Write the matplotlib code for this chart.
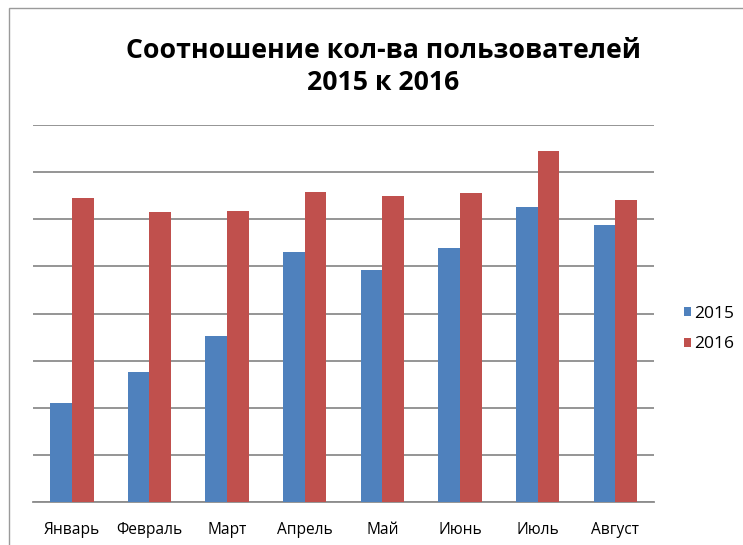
import matplotlib.pyplot as plt
import matplotlib.patches as patches
import numpy as np

months = ["Январь", "Февраль", "Март", "Апрель", "Май", "Июнь", "Июль", "Август"]
users_2015 = [2.10, 2.77, 3.53, 5.31, 4.93, 5.40, 6.27, 5.87]
users_2016 = [6.45, 6.16, 6.18, 6.59, 6.50, 6.56, 7.44, 6.40]

plt.rcParams['font.family'] = ['Open Sans', 'DejaVu Sans']

fig = plt.figure(figsize=(7.43, 5.45), dpi=100)
ax = fig.add_axes([0.0444, 0.0784, 0.836, 0.6922])

x = np.arange(len(months))
w = 0.28
ax.bar(x - w / 2, users_2015, w, color="#4F81BD", label="2015", zorder=3)
ax.bar(x + w / 2, users_2016, w, color="#C0504D", label="2016", zorder=3)

ax.set_xlim(-0.5, len(months) - 0.5)
ax.set_ylim(0, 8)
ax.set_yticks(range(0, 9))
ax.set_yticklabels([])
ax.tick_params(axis="y", length=0)
ax.yaxis.grid(True, color="#8c8c8c", linewidth=1.3, zorder=0)
ax.set_xticks(x)
ax.set_xticklabels(months, fontsize=11.2)
ax.tick_params(axis="x", length=0, pad=14)
for s in ["top", "right", "left"]:
    ax.spines[s].set_visible(False)
ax.spines["bottom"].set_color("#8c8c8c")
ax.spines["bottom"].set_linewidth(1.3)

fig.text(0.516, 1 - 58 / 545, "Соотношение кол-ва пользователей", ha="center", va="baseline",
         fontsize=19.2, fontweight="bold")
fig.text(0.516, 1 - 90 / 545, "2015 к 2016", ha="center", va="baseline",
         fontsize=19.2, fontweight="bold")

ax.legend(loc="center left", bbox_to_anchor=(684 / 743, 1 - 329 / 545),
          bbox_transform=fig.transFigure, frameon=False, borderpad=0, borderaxespad=0,
          fontsize=12.5, handlelength=0.4, handleheight=0.4, handletextpad=0.2,
          labelspacing=0.85)

# chart frame (left and top edges visible)
fig.patches.append(patches.Rectangle((9 / 743, -0.1), 1.2, 1 - 8 / 545 + 0.1,
                                     transform=fig.transFigure, fill=False,
                                     edgecolor="#9a9a9a", linewidth=1))

plt.savefig("out.png", dpi=100)
